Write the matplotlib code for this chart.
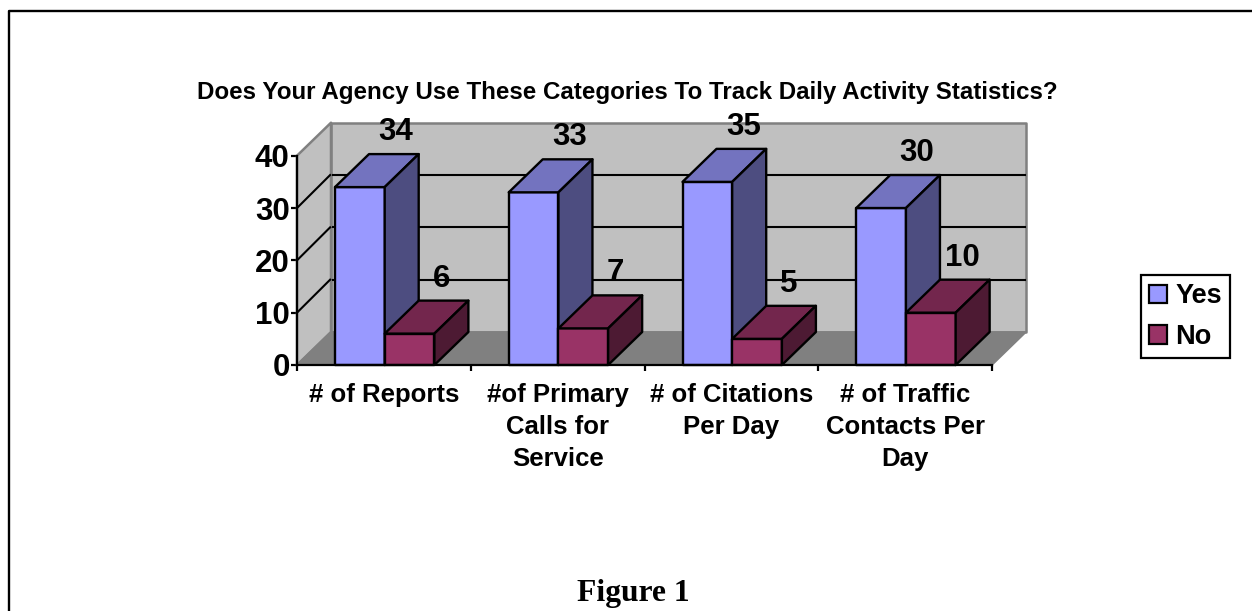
import matplotlib
matplotlib.use("Agg")
import matplotlib.pyplot as plt
from matplotlib.lines import Line2D
from matplotlib.patches import Patch, Polygon

categories = ['# of Reports', '#of Primary\nCalls for\nService', '# of Citations\nPer Day', '# of Traffic\nContacts Per\nDay']
yes_values = [34, 33, 35, 30]
no_values = [6, 7, 5, 10]
y_ticks = [0, 10, 20, 30, 40]

W, H = 1252, 611
plt.rcParams['font.family'] = ['Liberation Sans', 'DejaVu Sans']
plt.rcParams['font.weight'] = 'bold'

fig = plt.figure(figsize=(W / 100, H / 100), dpi=100)
# the axes is the front plane of the fake 3d box
ax = fig.add_axes([297 / W, (H - 365) / H, 695 / W, 209.3 / H])
ax.set_xlim(0, 4)
ax.set_ylim(0, 40)
ax.patch.set_visible(False)

# depth of the box in data units
dx = 34 / (695 / 4)
dy = 33 / (209.3 / 40)
bar_w = 49.7 / (695 / 4)
gap = 38 / (695 / 4)


def face(points, color, edge='black', lw=1.7, z=2):
    ax.add_patch(Polygon(points, closed=True, facecolor=color, edgecolor=edge, lw=lw,
                         zorder=z, clip_on=False, joinstyle='round'))


# walls and floor
face([(dx, dy), (4 + dx, dy), (4 + dx, 40 + dy), (dx, 40 + dy)], '#c0c0c0', '#808080', lw=1.8)
face([(0, 0), (dx, dy), (dx, 40 + dy), (0, 40)], '#c0c0c0', '#808080', lw=1.8)
face([(0, 0), (4, 0), (4 + dx, dy), (dx, dy)], '#808080', '#808080', lw=1.2)
for t in y_ticks[1:-1]:
    ax.plot([0, dx - 0.005], [t, t + dy], color='black', lw=1.5, zorder=2.1, clip_on=False)
    ax.plot([dx + 0.01, 4 + dx - 0.005], [t + dy, t + dy], color='black', lw=1.5, zorder=2.1, clip_on=False)


def draw_bar(x, v, front, top, side, label_dx):
    face([(x, 0), (x + bar_w, 0), (x + bar_w, v), (x, v)], front, z=3)
    face([(x, v), (x + bar_w, v), (x + bar_w + dx, v + dy), (x + dx, v + dy)], top, z=3)
    face([(x + bar_w, 0), (x + bar_w + dx, dy), (x + bar_w + dx, v + dy), (x + bar_w, v)], side, z=3)
    ax.annotate(str(v), (x + bar_w / 2 + dx, v + dy), xytext=(label_dx, 22), textcoords='offset pixels',
                ha='center', va='center', fontsize=22.5, fontweight='bold', zorder=5,
                annotation_clip=False)


for i in range(len(categories)):
    draw_bar(i + gap, yes_values[i], '#9999ff', '#7373bf', '#4d4d80', 2)
    draw_bar(i + gap + bar_w, no_values[i], '#993366', '#73264d', '#4d1a33', -2)

ax.spines['top'].set_visible(False)
ax.spines['right'].set_visible(False)
ax.spines['left'].set_linewidth(1.6)
ax.spines['left'].set_zorder(2.5)
ax.spines['bottom'].set_linewidth(1.6)
ax.spines['bottom'].set_zorder(4)

ax.set_yticks(y_ticks)
ax.tick_params(axis='y', length=4.3, width=1.6, pad=1, labelsize=22.5)
ax.set_xticks(range(5))
ax.set_xticklabels([])
ax.tick_params(axis='x', which='major', length=4.3, width=1.6)
ax.set_xticks([i + 0.5 for i in range(4)], categories, minor=True, linespacing=1.42)
ax.tick_params(axis='x', which='minor', length=0, pad=13, labelsize=18.5)

fig.text(627.5 / W, 1 - 92 / H, 'Does Your Agency Use These Categories To Track Daily Activity Statistics?',
         ha='center', va='center', fontsize=17.42, fontweight='bold')
fig.text(633.5 / W, 1 - 593 / H, 'Figure 1', ha='center', va='center', fontsize=22.8,
         fontweight='bold', family='Liberation Serif')

leg = fig.legend(handles=[Patch(facecolor='#9999ff', edgecolor='black', lw=1.6, label='Yes'),
                          Patch(facecolor='#993366', edgecolor='black', lw=1.6, label='No')],
                 loc='lower left', bbox_to_anchor=(1141 / W, 1 - 358 / H), fontsize=19.5,
                 fancybox=False, edgecolor='black', framealpha=1, borderaxespad=0,
                 handlelength=0.67, handleheight=0.67, handletextpad=0.3, labelspacing=0.55,
                 borderpad=0.29)
leg.get_frame().set_linewidth(1.6)

# page border, only top and left of it are in the crop
fig.add_artist(Line2D([9.3 / W, 9.3 / W, 1], [0, 1 - 11 / H, 1 - 11 / H], transform=fig.transFigure,
                      color='black', lw=1.7))

fig.savefig('out.png', dpi=100)
